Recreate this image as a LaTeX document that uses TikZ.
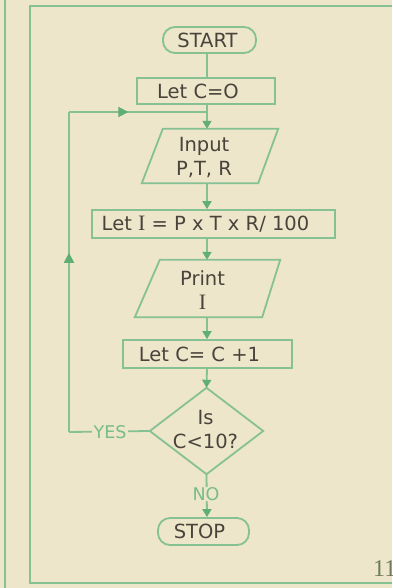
\documentclass[tikz,border=0pt]{standalone}
\usepackage{fontspec}
\setmainfont{DejaVu Sans}
\newfontfamily\serifI{Liberation Serif}
\newcommand{\bigI}{{\serifI\fontsize{22}{24}\selectfont I}}
\usetikzlibrary{arrows.meta,decorations.markings,calc}
\definecolor{bg}{HTML}{EDE6CB}
\definecolor{lc}{HTML}{86C193}
\definecolor{ac}{HTML}{5FAF75}
\definecolor{tx}{HTML}{4A433B}
\definecolor{gl}{HTML}{78BC88}
\definecolor{pn}{HTML}{6F7B5E}
\begin{document}
\begin{tikzpicture}[x=1pt,y=-1pt,
  ln/.style={draw=lc,line width=1.8pt},
  tipd/.style={-{Triangle[length=8pt,width=9pt,color=ac]}},
  box/.style={ln,rectangle,inner sep=0pt},
  term/.style={ln,rectangle,rounded corners=12pt,inner sep=0pt},
  ghost/.style={rectangle,inner sep=0pt},
  txt/.style={text=tx,font=\fontsize{19.5}{24}\selectfont,align=center,inner sep=0pt},
  glab/.style={text=gl,fill=bg,font=\fontsize{17.5}{20}\selectfont,inner sep=1.5pt},
  midtip/.style={postaction={decorate},decoration={markings,
      mark=at position #1 with {\arrow{Triangle[length=10pt,width=10pt,color=ac]}}}}
]
\fill[bg] (0,0) rectangle (392,588);
\useasboundingbox (0,0) rectangle (392,588);
\clip (0,0) rectangle (392,588);

% page frame
\draw[ln,line width=2.5pt] (5,0) -- (5,588);
\draw[ln,line width=2.5pt] (392,6) -- (30,6) -- (30,583) -- (392,583);
\node[anchor=west,text=pn,font=\serifI\fontsize{24}{24}\selectfont,inner sep=0pt] (pg) at (373,569) {11};

% nodes
\node[term,minimum width=93pt,minimum height=26pt,
      label={[txt,xshift=-2pt]center:START}] (start) at (209.5,40) {};
\node[box,minimum width=138pt,minimum height=26pt,
      label={[txt,xshift=-8pt]center:Let C=O}] (c0) at (206,91) {};
\node[ghost,minimum width=136pt,minimum height=54pt,
      label={[txt,xshift=-6pt,yshift=-2pt]center:Input\\P,T, R}] (input) at (210,156) {};
\node[box,minimum width=243pt,minimum height=28pt,
      label={[txt,xshift=-8pt]center:Let \bigI{} = P x T x R/ 100}] (calc) at (213.5,224) {};
\node[ghost,minimum width=145pt,minimum height=57pt,
      label={[txt,xshift=-5pt,yshift=-2pt]center:Print\\\bigI}] (print) at (207.5,288.5) {};
\node[box,minimum width=169pt,minimum height=28pt,
      label={[txt,xshift=-8pt]center:Let C= C +1}] (inc) at (207.5,354) {};
\node[ghost,minimum width=113pt,minimum height=86pt,
      label={[txt,xshift=-1pt,yshift=1pt]center:Is\\C<10?}] (dia) at (206.5,431) {};
\node[term,minimum width=91pt,minimum height=27pt,
      label={[txt,xshift=-4pt]center:STOP}] (stop) at (203.5,531.5) {};

% drawn shapes
\draw[ln] ($(input.north west)+(21,0)$) -- (input.north east)
   -- ($(input.south east)+(-20,0)$) -- (input.south west) -- cycle;
\draw[ln] ($(print.north west)+(25,0)$) -- (print.north east)
   -- ($(print.south east)+(-18,0)$) -- (print.south west) -- cycle;
\draw[ln] (dia.north) -- (dia.east) -- (dia.south) -- (dia.west) -- cycle;

% spine and connectors
\coordinate (sp) at (207,0);
\coordinate (j) at (207,112);
\coordinate (lt) at (69,112);
\coordinate (lb) at (69,432);
\draw[ln] (sp |- start.south) -- (sp |- c0.north);
\draw[ln] (sp |- c0.south) -- (j);
\draw[ln,tipd] (j) -- (sp |- input.north);
\draw[ln,tipd] (sp |- input.south) -- (sp |- calc.north);
\draw[ln,tipd] (sp |- calc.south) -- (sp |- print.north);
\draw[ln,tipd] (sp |- print.south) -- (sp |- inc.north);
\draw[ln,tipd] (sp |- inc.south) -- (dia.north);

% YES loop
\draw[ln] (dia.west) -- (lb);
\draw[ln,midtip=0.56] (lb) -- (lt);
\draw[ln,midtip=0.43] (lt) -- (j);
\node[glab] (yes) at (110,432) {YES};

% NO exit
\draw[ln,tipd] (dia.south) -- (sp |- stop.north);
\node[glab,inner sep=0.5pt] (no) at (206,494) {NO};
\end{tikzpicture}
\end{document}
